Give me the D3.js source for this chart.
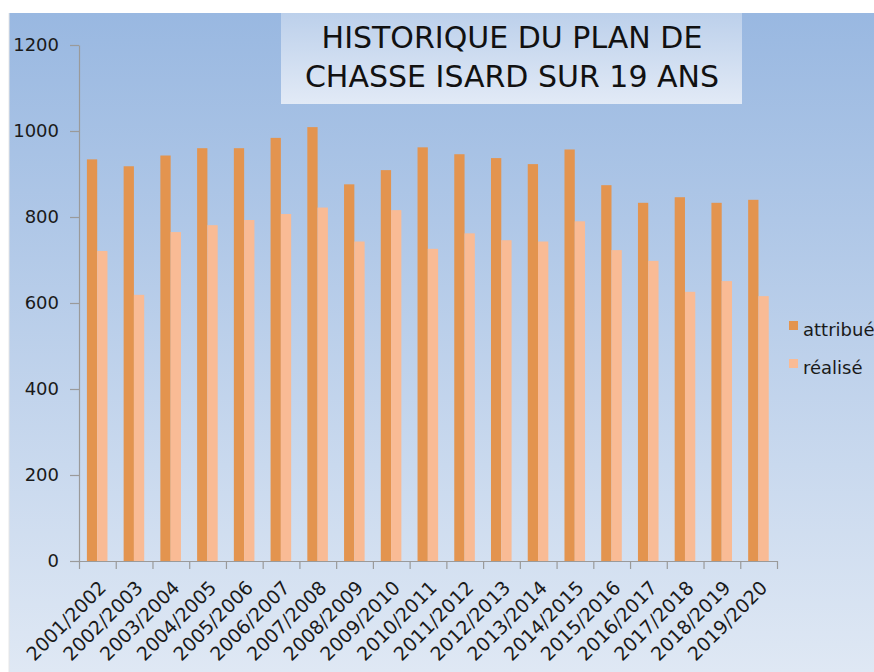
<!DOCTYPE html>
<html>
<head>
<meta charset="utf-8">
<script src="https://cdn.jsdelivr.net/npm/d3@7"></script>
<style>
  html, body { margin: 0; padding: 0; background: #fff; }
  svg { display: block; font-family: "DejaVu Sans", sans-serif; }
</style>
</head>
<body>
<div id="chart"></div>
<script>
// ── Data ─────────────────────────────────────────────────────────
const seasons = [
  '2001/2002', '2002/2003', '2003/2004', '2004/2005', '2005/2006',
  '2006/2007', '2007/2008', '2008/2009', '2009/2010', '2010/2011',
  '2011/2012', '2012/2013', '2013/2014', '2014/2015', '2015/2016',
  '2016/2017', '2017/2018', '2018/2019', '2019/2020'
];
const attribue = [934, 918, 943, 960, 960, 984, 1009, 876, 909, 962, 946, 937, 923, 957, 874, 833, 846, 833, 840];
const realise  = [721, 619, 765, 781, 793, 807, 822, 743, 816, 726, 762, 746, 743, 790, 723, 698, 626, 651, 616];
const seriesNames = ['attribué', 'réalisé'];
const seriesColors = ['#e3944f', '#f9bb95'];
const yTicks = [0, 200, 400, 600, 800, 1000, 1200];
const titleLines = ['HISTORIQUE DU PLAN DE', 'CHASSE ISARD SUR 19 ANS'];

// ── Layout ───────────────────────────────────────────────────────
const W = 874, H = 672;
const plot = { left: 79, right: 777, top: 45, bottom: 561 };

const svg = d3.select('#chart').append('svg')
  .attr('width', W)
  .attr('height', H);

const defs = svg.append('defs');
const bg = defs.append('linearGradient').attr('id', 'bg').attr('x1', 0).attr('y1', 0).attr('x2', 0).attr('y2', 1);
bg.append('stop').attr('offset', '0%').attr('stop-color', '#99b8e1');
bg.append('stop').attr('offset', '100%').attr('stop-color', '#dfe8f4');
const tb = defs.append('linearGradient').attr('id', 'tb').attr('x1', 0).attr('y1', 0).attr('x2', 0).attr('y2', 1);
tb.append('stop').attr('offset', '0%').attr('stop-color', '#bcd0eb');
tb.append('stop').attr('offset', '100%').attr('stop-color', '#e2eaf6');

// background panel
svg.append('rect')
  .attr('x', 9).attr('y', 13)
  .attr('width', W - 9).attr('height', H - 13)
  .attr('fill', 'url(#bg)');
svg.append('line')
  .attr('x1', 9).attr('x2', 9).attr('y1', 13).attr('y2', H)
  .attr('stroke', '#e6e6e6');

// title box
svg.append('rect')
  .attr('x', 281).attr('y', 13)
  .attr('width', 461).attr('height', 91)
  .attr('fill', 'url(#tb)');
svg.append('text')
  .attr('x', 512)
  .attr('text-anchor', 'middle')
  .attr('font-size', '30px')
  .attr('fill', '#111')
  .selectAll('tspan')
  .data(titleLines)
  .enter()
  .append('tspan')
  .attr('x', 512)
  .attr('y', (d, i) => 48 + i * 39)
  .text(d => d);

// ── Scales ───────────────────────────────────────────────────────
const x0 = d3.scaleBand()
  .domain(seasons)
  .range([plot.left, plot.right])
  .padding(0);
const bw = x0.bandwidth();
const x1 = d3.scaleBand()
  .domain(seriesNames)
  .range([bw * 0.215, bw * 0.775])
  .padding(0);
const y = d3.scaleLinear()
  .domain([0, 1200])
  .range([plot.bottom, plot.top]);

// ── Bars ─────────────────────────────────────────────────────────
const rows = seasons.map((s, i) => ({ season: s, values: [attribue[i], realise[i]] }));

const groups = svg.append('g').selectAll('g')
  .data(rows)
  .enter()
  .append('g')
  .attr('transform', d => `translate(${x0(d.season)},0)`);

groups.selectAll('rect')
  .data(d => d.values.map((v, k) => ({ key: seriesNames[k], value: v, color: seriesColors[k] })))
  .enter()
  .append('rect')
  .attr('x', d => x1(d.key))
  .attr('y', d => y(d.value))
  .attr('width', x1.bandwidth())
  .attr('height', d => y(0) - y(d.value))
  .attr('fill', d => d.color);

// ── Axes ─────────────────────────────────────────────────────────
const axisColor = '#9a9a9a';

const yAxis = svg.append('g')
  .attr('transform', `translate(${plot.left},0)`)
  .call(d3.axisLeft(y).tickValues(yTicks).tickFormat(d3.format('d'))
    .tickSize(9).tickSizeOuter(0).tickPadding(11));
yAxis.selectAll('text')
  .attr('font-size', '18px')
  .attr('fill', '#1a1a1a')
  .attr('font-family', '"DejaVu Sans", sans-serif');

// x axis: ticks at category boundaries
const xb = d3.scaleLinear().domain([0, seasons.length]).range([plot.left, plot.right]);
svg.append('g')
  .attr('transform', `translate(0,${plot.bottom})`)
  .call(d3.axisBottom(xb).tickValues(d3.range(seasons.length + 1))
    .tickSize(8).tickSizeOuter(0).tickFormat(''));

svg.selectAll('.domain, .tick line').attr('stroke', axisColor).attr('stroke-width', 1.2);

// rotated category labels
svg.append('g').selectAll('text')
  .data(seasons)
  .enter()
  .append('text')
  .attr('transform', d => `translate(${x0(d) + bw / 2 + 10},589) rotate(-45)`)
  .attr('text-anchor', 'end')
  .attr('font-size', '19px')
  .attr('fill', '#1a1a1a')
  .text(d => d);

// ── Legend ───────────────────────────────────────────────────────
const legend = svg.append('g').selectAll('g')
  .data(seriesNames)
  .enter()
  .append('g')
  .attr('transform', (d, i) => `translate(789,${321 + i * 38})`);
legend.append('rect')
  .attr('width', 9).attr('height', 9)
  .attr('fill', (d, i) => seriesColors[i]);
legend.append('text')
  .attr('x', 14).attr('y', 15)
  .attr('font-size', '18px')
  .attr('fill', '#1a1a1a')
  .text(d => d);
</script>
</body>
</html>
